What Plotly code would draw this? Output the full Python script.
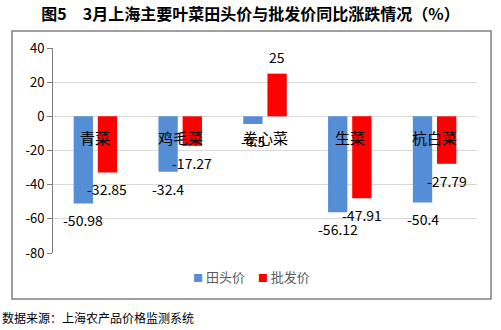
import plotly.graph_objects as go

categories = ["青菜", "鸡毛菜", "卷心菜", "生菜", "杭白菜"]
farm_price = [-50.98, -32.4, -4.5, -56.12, -50.4]
wholesale_price = [-32.85, -17.27, 25, -47.91, -27.79]
series_names = ["田头价", "批发价"]
y_ticks = [40, 20, 0, -20, -40, -60, -80]

W, H = 501, 330
L, R, T, B = 53, 24, 48, 77
pw, ph = W - L - R, H - T - B

def px_x(x):
    return (x - L) / pw

def px_y(y):
    return (H - B - y) / ph

font_cjk = "Noto Sans CJK SC, Microsoft YaHei, sans-serif"
blue = "#558ED5"
red = "#FF0000"
colors = [blue, red]

fig = go.Figure()
fig.add_trace(go.Bar(x=categories, y=farm_price, name=series_names[0],
                     marker=dict(color=blue, line=dict(width=0))))
fig.add_trace(go.Bar(x=categories, y=wholesale_price, name=series_names[1],
                     marker=dict(color=red, line=dict(width=0))))

annotations = []
# data labels
for vals, xs in ((farm_price, -12), (wholesale_price, 12)):
    for c, v in zip(categories, vals):
        annotations.append(dict(x=c, y=v, xref="x", yref="y", text=str(v),
                                showarrow=False, xshift=xs,
                                yshift=(-17 if v < 0 else 17),
                                yanchor="middle", xanchor="center",
                                font=dict(family=font_cjk, size=14, color="#000000")))
# category labels at the zero line
for c in categories:
    annotations.append(dict(x=c, y=0, xref="x", yref="y", text=c, showarrow=False,
                            yshift=-21, yanchor="middle", xanchor="center",
                            font=dict(family=font_cjk, size=15, color="#000000")))
# legend (drawn as text)
legend_text = "　".join(
    f'<span style="color:{col};font-size:10px">■</span> {name}'
    for name, col in zip(series_names, colors))
annotations.append(dict(x=px_x(251), y=px_y(276), xref="paper", yref="paper",
                        text=legend_text, showarrow=False,
                        xanchor="center", yanchor="middle",
                        font=dict(family=font_cjk, size=13, color="#595959")))
# source note
annotations.append(dict(x=px_x(0), y=px_y(317), xref="paper", yref="paper",
                        text="数据来源：上海农产品价格监测系统", showarrow=False,
                        xanchor="left", yanchor="middle",
                        font=dict(family=font_cjk, size=12, color="#000000")))

fig.update_layout(
    width=W, height=H,
    margin=dict(l=L, r=R, t=T, b=B, pad=0),
    paper_bgcolor="white", plot_bgcolor="white",
    barmode="group", bargap=0.43, bargroupgap=0.2,
    title=dict(text="<b>图5　3月上海主要叶菜田头价与批发价同比涨跌情况（%）</b>",
               x=0.5, xref="container", xanchor="center",
               y=1 - 14 / H, yref="container", yanchor="middle",
               font=dict(family=font_cjk, size=16, color="#000000")),
    xaxis=dict(showticklabels=False, showgrid=False, showline=False, ticks="",
               zeroline=False, fixedrange=True),
    yaxis=dict(range=[-80, 40], tickvals=y_ticks, ticktext=[str(t) for t in y_ticks],
               showgrid=True, gridcolor="#D9D9D9", gridwidth=1,
               zeroline=True, zerolinecolor="#D9D9D9", zerolinewidth=1,
               showline=True, linecolor="#7F7F7F", linewidth=1,
               ticks="outside", ticklen=5, tickcolor="#7F7F7F",
               tickfont=dict(family=font_cjk, size=13, color="#000000")),
    annotations=annotations,
    shapes=[dict(type="rect", xref="paper", yref="paper",
                 x0=px_x(12), x1=px_x(491), y0=px_y(299), y1=px_y(31),
                 line=dict(color="#808080", width=1.5), fillcolor="rgba(0,0,0,0)",
                 layer="below")],
    showlegend=False,
)

fig.write_html("out.html")
